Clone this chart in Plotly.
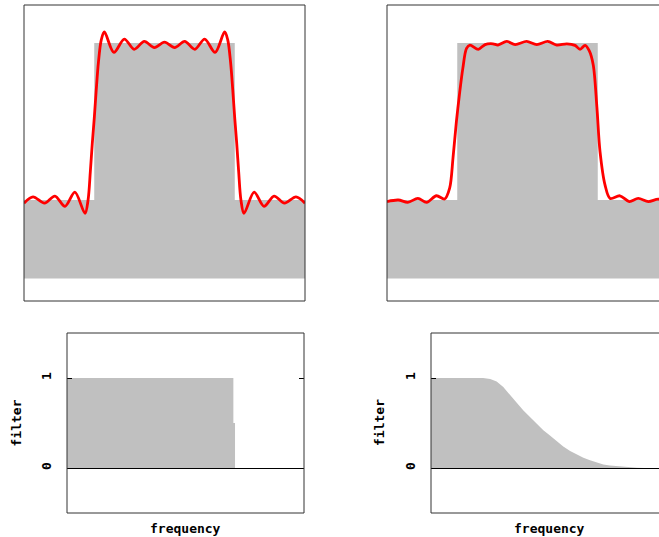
import plotly.graph_objects as go

W, H = 659, 537

# ---- data ----
# top panels: step signal (gray) on a fill floor
step_x = [0.0, 0.0, 0.25, 0.25, 0.75, 0.75, 1.0, 1.0]
step_y = [-0.5, 0.0, 0.0, 1.0, 1.0, 0.0, 0.0, -0.5]

# red reconstruction, sharp cutoff filter (Gibbs ringing)
sharp_x = [0.0, 0.032, 0.073, 0.11, 0.146, 0.181, 0.217, 0.228, 0.236, 0.243, 0.25,
           0.257, 0.265, 0.275, 0.286, 0.32, 0.357, 0.392, 0.428, 0.464, 0.5,
           0.536, 0.572, 0.608, 0.643, 0.68, 0.714, 0.725, 0.735, 0.743, 0.75,
           0.757, 0.764, 0.772, 0.783, 0.819, 0.854, 0.89, 0.927, 0.968, 1.0]
sharp_y = [-0.02, 0.02, -0.02, 0.025, -0.04, 0.05, -0.085, 0.0, 0.18, 0.36, 0.52,
           0.7, 0.88, 1.02, 1.07, 0.94, 1.025, 0.96, 1.01, 0.97, 1.005,
           0.97, 1.01, 0.96, 1.025, 0.94, 1.07, 1.02, 0.88, 0.7, 0.52,
           0.36, 0.18, 0.0, -0.085, 0.05, -0.04, 0.025, -0.02, 0.02, -0.02]

# red reconstruction, smooth filter
smooth_x = [0.0, 0.04, 0.074, 0.11, 0.141, 0.176, 0.205, 0.223, 0.235, 0.247, 0.259,
            0.27, 0.283, 0.295, 0.325, 0.349, 0.377, 0.395, 0.426, 0.456, 0.497,
            0.533, 0.572, 0.604, 0.64, 0.669, 0.687, 0.705, 0.72, 0.734, 0.747,
            0.758, 0.776, 0.794, 0.829, 0.862, 0.894, 0.93, 0.965, 1.0]
smooth_y = [-0.01, 0.0, -0.015, 0.01, -0.015, 0.027, 0.006, 0.076, 0.27, 0.5, 0.69,
            0.84, 0.966, 0.987, 0.96, 0.99, 0.995, 0.987, 1.01, 0.99, 1.01,
            0.99, 1.01, 0.987, 0.995, 0.985, 0.96, 0.985, 0.95, 0.86, 0.59,
            0.31, 0.095, 0.01, 0.027, -0.01, 0.01, -0.01, 0.005, -0.01]

# bottom panels: filters vs frequency
sharp_f = [0.0, 0.702, 0.702, 0.709, 0.709, 1.0]
sharp_filter = [1.0, 1.0, 0.5, 0.5, 0.0, 0.0]

smooth_f = [0.0, 0.22, 0.25, 0.277, 0.305, 0.333, 0.36, 0.39, 0.418, 0.446, 0.474,
            0.502, 0.53, 0.558, 0.587, 0.615, 0.643, 0.671, 0.7, 0.727, 0.755,
            0.783, 0.81, 0.84, 0.87, 0.9, 1.0]
smooth_filter = [1.0, 1.0, 0.99, 0.96, 0.9, 0.81, 0.73, 0.64, 0.565, 0.49, 0.42,
                 0.36, 0.295, 0.24, 0.19, 0.15, 0.115, 0.085, 0.06, 0.04, 0.028,
                 0.02, 0.012, 0.005, 0.002, 0.0, 0.0]

ytick_vals = [0, 1]
ytick_text = ["0", "1"]

GRAY = "#c0c0c0"
RED = "#ff0000"
FONT = dict(family="DejaVu Sans Mono", size=13, color="black", weight="bold")


def px(x):
    return x / W


def py(y):
    return 1 - y / H


fig = go.Figure()

# top-left
fig.add_trace(go.Scatter(x=step_x, y=step_y, fill="toself", fillcolor=GRAY,
                         line=dict(width=0), mode="lines", xaxis="x", yaxis="y",
                         hoverinfo="skip"))
fig.add_trace(go.Scatter(x=sharp_x, y=sharp_y, mode="lines",
                         line=dict(color=RED, width=2.8, shape="spline", smoothing=0.9),
                         xaxis="x", yaxis="y"))
# top-right
fig.add_trace(go.Scatter(x=step_x, y=step_y, fill="toself", fillcolor=GRAY,
                         line=dict(width=0), mode="lines", xaxis="x2", yaxis="y2",
                         hoverinfo="skip"))
fig.add_trace(go.Scatter(x=smooth_x, y=smooth_y, mode="lines",
                         line=dict(color=RED, width=2.8, shape="spline", smoothing=0.9),
                         xaxis="x2", yaxis="y2"))
# bottom-left
fig.add_trace(go.Scatter(x=sharp_f, y=sharp_filter, fill="tozeroy", fillcolor=GRAY,
                         line=dict(width=0), mode="lines", xaxis="x3", yaxis="y3"))
# bottom-right
fig.add_trace(go.Scatter(x=smooth_f, y=smooth_filter, fill="tozeroy", fillcolor=GRAY,
                         line=dict(width=0), mode="lines",
                         xaxis="x4", yaxis="y4"))

top_y_range = [(200 - 301) / 157, (200 - 5) / 157]
plain = dict(showgrid=False, zeroline=False, showticklabels=False, ticks="",
             showline=False, fixedrange=True)

fig.update_layout(
    width=W, height=H, margin=dict(l=0, r=0, t=0, b=0),
    paper_bgcolor="white", plot_bgcolor="white", showlegend=False,
    xaxis=dict(domain=[px(24), px(305)], range=[0, 1], anchor="y", **plain),
    yaxis=dict(domain=[py(301), py(5)], range=top_y_range, anchor="x", **plain),
    xaxis2=dict(domain=[px(387), 1], range=[0, (659 - 387) / 281], anchor="y2", **plain),
    yaxis2=dict(domain=[py(301), py(5)], range=top_y_range, anchor="x2", **plain),
    xaxis3=dict(domain=[px(67), px(304)], range=[0, 1], anchor="y3", **plain),
    yaxis3=dict(domain=[py(513), py(333)], range=[-0.5, 1.5], anchor="x3",
                showgrid=False, zeroline=True, zerolinecolor="black", zerolinewidth=1,
                tickvals=ytick_vals, ticktext=ytick_text, tickangle=-90,
                ticks="inside", ticklen=5, tickcolor="black", mirror="ticks",
                showline=False, tickfont=FONT, ticklabelstandoff=12, fixedrange=True),
    xaxis4=dict(domain=[px(431), 1], range=[0, (659 - 431) / 237], anchor="y4", **plain),
    yaxis4=dict(domain=[py(513), py(333)], range=[-0.5, 1.5], anchor="x4",
                showgrid=False, zeroline=True, zerolinecolor="black", zerolinewidth=1,
                tickvals=ytick_vals, ticktext=ytick_text, tickangle=-90,
                ticks="inside", ticklen=5, tickcolor="black",
                showline=False, tickfont=FONT, ticklabelstandoff=12, fixedrange=True),
)

# panel frames (right panels continue beyond the window edge)
frames = [(24, 5, 305, 301), (387, 5, 668, 301), (67, 333, 304, 513), (431, 333, 668, 513)]
for x0, y0, x1, y1 in frames:
    fig.add_shape(type="rect", xref="paper", yref="paper",
                  x0=px(x0), x1=px(x1), y0=py(y1), y1=py(y0),
                  line=dict(color="#333333", width=1), layer="above")

# axis titles
for cx in [185.5, 549.5]:
    fig.add_annotation(text="frequency", xref="paper", yref="paper",
                       x=px(cx), y=py(528), showarrow=False, font=FONT,
                       xanchor="center", yanchor="middle")
for cx in [15.5, 379]:
    fig.add_annotation(text="filter", xref="paper", yref="paper",
                       x=px(cx), y=py(423), showarrow=False, font=FONT,
                       textangle=-90, xanchor="center", yanchor="middle")

fig.write_html("out.html", config={"displayModeBar": False},
               post_script="document.body.style.margin='0';")
